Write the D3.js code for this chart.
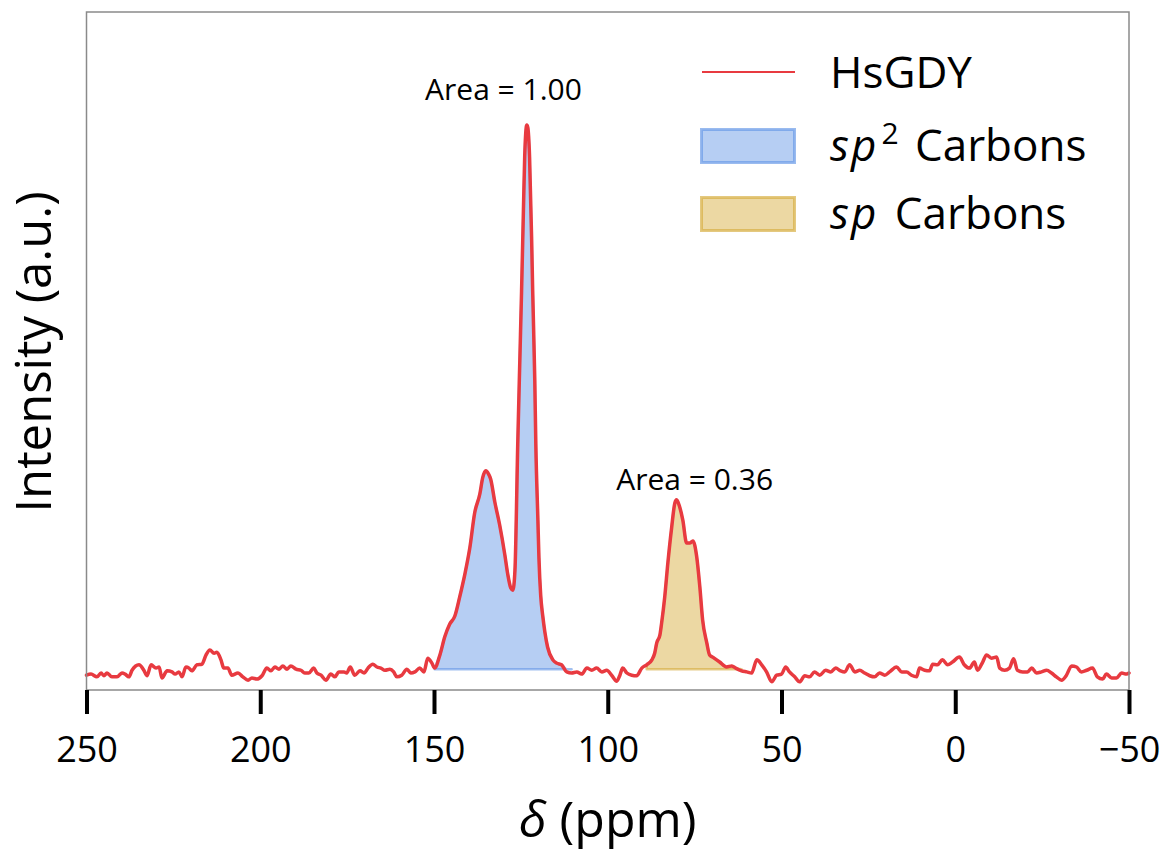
<!DOCTYPE html>
<html>
<head>
<meta charset="utf-8">
<script src="https://cdn.jsdelivr.net/npm/d3@7"></script>
<style>
  html, body { margin: 0; padding: 0; background: #fff; }
  svg text { font-family: "Open Sans", "Noto Sans", sans-serif; fill: #000; }
</style>
</head>
<body>
<svg id="chart" width="1168" height="852"></svg>
<script>
// ---- data ----
const ppm = [250,248.7,247.0,245.8,245.0,244.1,242.7,241.2,239.8,238.9,237.8,236.9,234.9,233.5,232.6,231.4,230.0,229.1,228.3,226.8,225.4,224.5,223.4,222.5,221.4,220.5,219.7,218.2,216.8,215.6,214.5,213.3,212.5,211.3,210.5,209.3,208.2,206.4,205.0,203.5,202.4,201.0,199.5,198.1,196.9,195.8,194.6,193.5,192.3,191.2,189.7,188.3,187.2,186.0,184.6,183.7,182.5,181.1,179.7,178.5,177.4,175.9,
175.1,174.1,172.8,171.3,170.1,169.0,167.6,166.4,165.3,164.1,162.7,161.6,160.7,159.3,157.8,156.7,155.5,154.1,152.9,151.8,150.6,149.8,
148.3,146.9,145.5,144.0,142.6,141.1,139.7,138.3,136.8,136.0,135.1,134.3,133.7,132.5,131.1,129.6,128.8,127.9,127.3,126.7,125.9,125.3,124.8,124.2,123.9,123.3,123.0,122.5,121.9,121.6,121.0,120.7,120.1,119.8,119.3,118.7,118.1,117.3,115.8,114.7,113.3,111.8,110.4,108.9,107.5,106.0,104.6,103.2,101.7,100.3,98.9,97.4,96.5,95.7,94.5,93.1,91.7,90.2,88.8,87.3,86.5,85.9,85.0,84.5,83.6,82.7,81.6,80.7,80.2,79.3,78.4,77.3,76.4,75.5,74.4,73.5,72.7,71.5,70.7,69.8,67.8,65.8,64.3,63.2,61.5,60.0,58.6,57.1,55.7,54.3,52.8,51.4,50.0,48.8,47.7,46.2,44.8,43.3,41.9,40.5,39.0,37.3,35.8,34.4,33.0,31.8,30.4,28.9,27.5,26.1,24.6,23.2,21.8,20.3,18.9,16.9,15.4,14.0,12.6,11.1,10.3,8.8,7.4,6.5,5.1,3.7,2.2,0.8,-1.2,-2.6,-4.1,-5.5,-6.4,-7.9,-9.0,-10.4,-11.9,-12.8,-14.2,-15.6,-16.8,-17.9,-19.4,-20.8,-22.0,-23.4,-24.8,-26.3,-27.7,-29.1,-30.6,-32.0,-33.5,-34.9,-36.3,-37.8,-39.5,-40.9,-42.4,-43.5,-45.0,-46.4,-47.9,-49.3,-50];
const intensity = [-0.004,-0.002,-0.007,0,-0.005,0,-0.007,-0.007,0,-0.002,-0.007,0.005,0.015,0.005,-0.005,0.015,0.009,0.011,-0.009,0.004,0.002,-0.002,0.002,-0.007,0.011,0.009,0.004,0.015,0.016,0.033,0.042,0.036,0.038,0.024,0.009,0.009,-0.004,0,-0.007,-0.013,-0.009,-0.011,-0.005,0.009,0.004,0.011,0.007,0.013,0.007,0.013,0.007,0.005,0,0,0.009,0,-0.004,-0.013,-0.002,-0.007,0.002,0.002,
0,0.011,-0.004,0.004,0,0.009,0.016,0.011,0.009,0.005,0.007,0.002,-0.007,-0.004,0.007,0,0.002,0.009,0.002,0.027,0.018,0.009,
0.033,0.066,0.089,0.104,0.139,0.181,0.228,0.292,0.327,0.356,0.369,0.363,0.354,0.312,0.270,0.215,0.181,0.155,0.151,0.188,0.418,0.571,0.697,0.863,0.942,1.0,0.995,0.942,0.790,0.697,0.535,0.418,0.279,0.210,0.142,0.104,0.075,0.047,0.024,0.018,0.015,0.002,0,0.002,-0.002,0.009,0.005,0.009,0.002,0.005,-0.004,-0.015,-0.004,0.009,0,-0.004,-0.005,0.009,0.015,0.024,0.036,0.055,0.069,0.091,0.139,0.201,0.266,0.310,0.316,0.303,0.279,0.237,0.237,0.241,0.212,0.157,0.097,0.055,0.033,0.029,0.020,0.011,0.013,0.009,0.004,0.002,0,0.024,0.015,0.002,-0.016,-0.004,-0.002,0.011,0.002,-0.007,-0.016,-0.005,-0.007,0.002,-0.004,0.005,0.002,0.009,0.004,0.002,0.015,0.002,0.005,0,-0.005,-0.007,0,-0.004,0.002,0.011,0.002,0.002,-0.004,-0.007,0.009,0.005,0.004,0.016,0.015,0.024,0.015,0.020,0.029,0.015,0.009,0.020,0.005,0.020,0.033,0.027,0.029,0.009,0.005,0.009,0.026,0.005,0.002,0.002,0.009,0,0.002,0.005,0,-0.007,-0.013,-0.004,0.013,0.011,0.002,0.005,0.009,-0.007,-0.011,-0.002,-0.009,-0.009,0,-0.002,0];

const xTicks = [250, 200, 150, 100, 50, 0, -50];
const sp2Range = [150, 110];   // integrated region of sp2 carbons
const spRange = [90, 61];      // integrated region of sp carbons
const fillBase = 0.007;
const areaLabels = ["Area = 1.00", "Area = 0.36"];
const areaLabelPos = [[130, 1.045], [75, 0.334]];   // [ppm, intensity]
const legendLabels = ["HsGDY", "sp", "sp"];

// ---- layout ----
const svg = d3.select("#chart");
const m = { left: 86.5, right: 1129, top: 12, bottom: 690 };
const x = d3.scaleLinear().domain([250, -50]).range([m.left, m.right]);
const y = d3.scaleLinear().domain([-0.031, 1.206]).range([m.bottom, m.top]);

const RED = "#e83a40";
const data = ppm.map((p, i) => ({ p, v: intensity[i] }));

// fills
function fillArea(range, fill, stroke) {
  const seg = data.filter(d => d.p <= range[0] && d.p >= range[1]);
  const area = d3.area()
    .x(d => x(d.p))
    .y0(y(fillBase))
    .y1(d => y(Math.max(d.v, fillBase)))
    .curve(d3.curveMonotoneX);
  svg.append("path").datum(seg)
    .attr("d", area)
    .attr("fill", fill)
    .attr("stroke", stroke)
    .attr("stroke-width", 2.5)
    .attr("stroke-linejoin", "round");
}
fillArea(sp2Range, "rgba(110,158,232,0.5)", "rgba(100,150,230,0.6)");
fillArea(spRange, "rgba(214,172,60,0.47)", "rgba(214,172,60,0.6)");

// spectrum line
const line = d3.line().x(d => x(d.p)).y(d => y(d.v)).curve(d3.curveMonotoneX);
svg.append("path").datum(data)
  .attr("d", line)
  .attr("fill", "none")
  .attr("stroke", RED)
  .attr("stroke-width", 3.5)
  .attr("stroke-linejoin", "round")
  .attr("stroke-linecap", "round");

// frame
svg.append("rect")
  .attr("x", m.left).attr("y", m.top)
  .attr("width", m.right - m.left).attr("height", m.bottom - m.top)
  .attr("fill", "none").attr("stroke", "#8a8a8a").attr("stroke-width", 1.5);

// x axis
const xAxis = d3.axisBottom(x).tickValues(xTicks).tickSize(24).tickPadding(22);
const gx = svg.append("g").attr("transform", `translate(0,${m.bottom})`).call(xAxis);
gx.select(".domain").remove();
gx.selectAll(".tick line").attr("stroke", "#000").attr("stroke-width", 4);
gx.selectAll(".tick text").attr("font-size", 36).attr("font-family", "Open Sans").attr("fill", "#000");

// axis labels
const xl = svg.append("text").attr("x", (m.left + m.right) / 2).attr("y", 837)
  .attr("text-anchor", "middle").attr("font-size", 50);
xl.append("tspan").attr("font-style", "italic").text("δ");
xl.append("tspan").text(" (ppm)");

svg.append("text")
  .attr("transform", `translate(51,352) rotate(-90)`)
  .attr("text-anchor", "middle").attr("font-size", 49)
  .text("Intensity (a.u.)");

// area labels
areaLabels.forEach((t, i) => {
  svg.append("text")
    .attr("x", x(areaLabelPos[i][0])).attr("y", y(areaLabelPos[i][1]))
    .attr("text-anchor", "middle").attr("font-size", 30)
    .text(t);
});

// legend
const lg = svg.append("g");
lg.append("line").attr("x1", 702).attr("x2", 795).attr("y1", 72).attr("y2", 72)
  .attr("stroke", RED).attr("stroke-width", 2);
lg.append("rect").attr("x", 701.5).attr("y", 129.5).attr("width", 93).attr("height", 33)
  .attr("fill", "rgba(110,158,232,0.5)").attr("stroke", "rgba(100,150,230,0.65)").attr("stroke-width", 3);
lg.append("rect").attr("x", 701.5).attr("y", 197.5).attr("width", 93).attr("height", 33)
  .attr("fill", "rgba(214,172,60,0.47)").attr("stroke", "rgba(214,172,60,0.65)").attr("stroke-width", 3);

lg.append("text").attr("x", 830).attr("y", 88).attr("font-size", 44).text(legendLabels[0]);
const t2 = lg.append("text").attr("x", 830).attr("y", 161).attr("font-size", 44);
t2.append("tspan").attr("font-style", "italic").attr("letter-spacing", 2).text(legendLabels[1]);
t2.append("tspan").attr("font-size", 30).attr("dx", 3).attr("dy", -17).text("2");
t2.append("tspan").attr("dx", 5).attr("dy", 17).text(" Carbons");
const t3 = lg.append("text").attr("x", 830).attr("y", 229).attr("font-size", 44);
t3.append("tspan").attr("font-style", "italic").attr("letter-spacing", 2).text(legendLabels[2]);
t3.append("tspan").attr("dx", 5).text(" Carbons");
</script>
</body>
</html>
